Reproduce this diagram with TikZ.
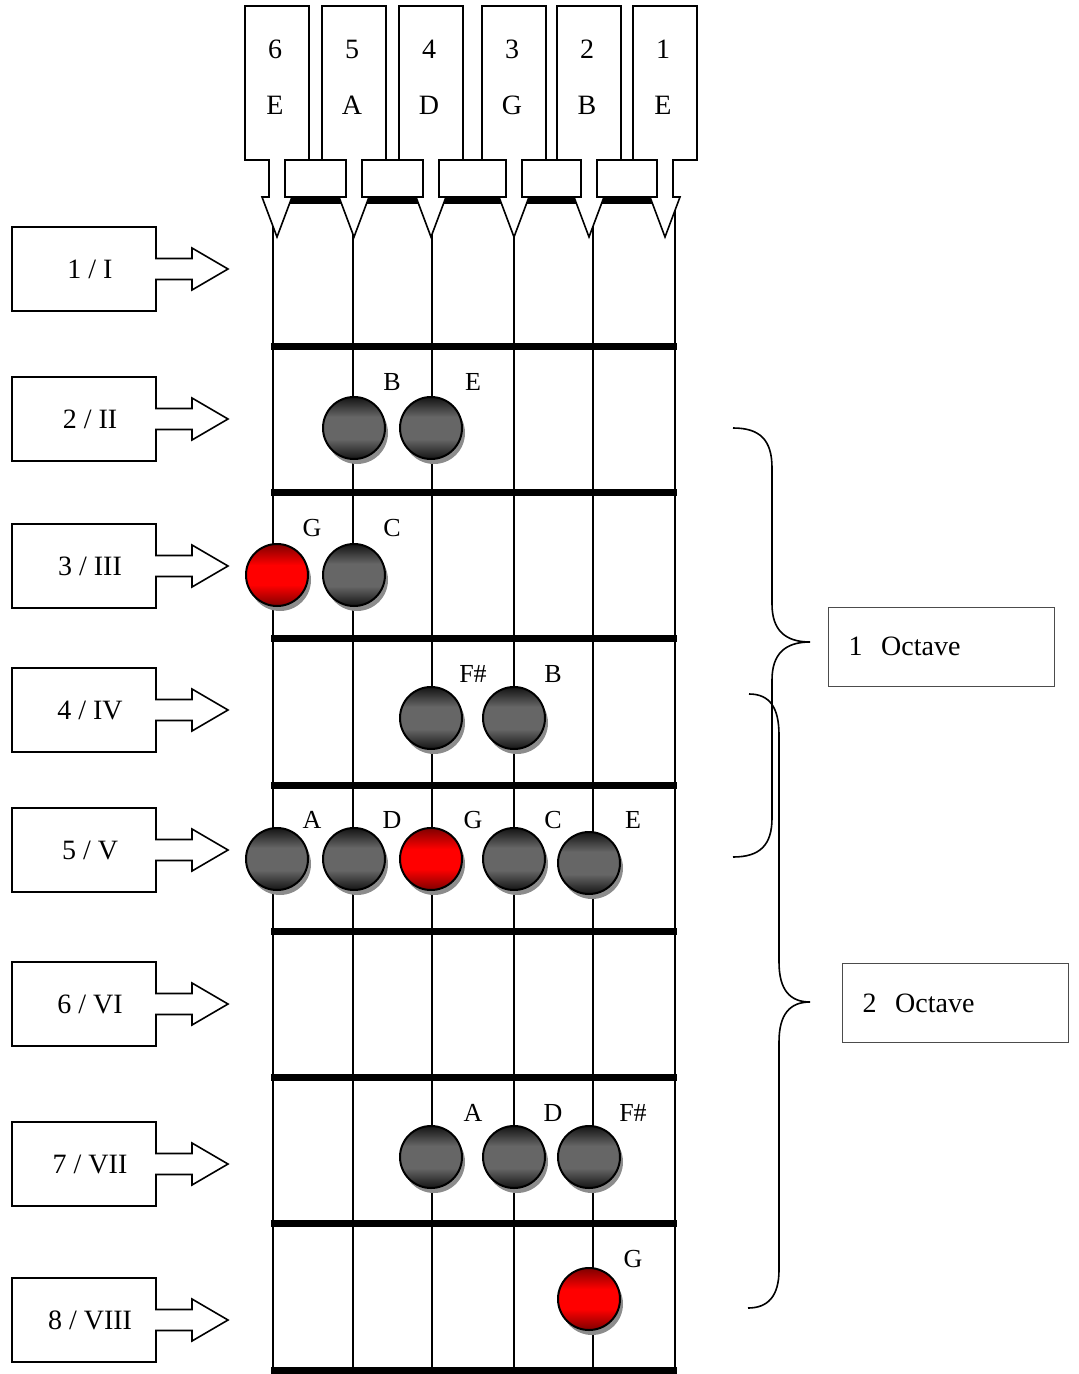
\documentclass[tikz,border=0pt]{standalone}
\usepackage{fontspec}
\setmainfont{Liberation Serif}
\usetikzlibrary{positioning, calc, shadows}
\pgfdeclareverticalshading{notegray}{100bp}{color(0bp)=(black!92); color(25bp)=(black!92);
  color(41bp)=(black!60); color(59bp)=(black!60); color(75bp)=(black!92); color(100bp)=(black!92)}
\pgfdeclareverticalshading{notered}{100bp}{color(0bp)=(red!50!black); color(25bp)=(red!50!black);
  color(42bp)=(red); color(58bp)=(red); color(75bp)=(red!50!black); color(100bp)=(red!50!black)}

\begin{document}
\begin{tikzpicture}[x=0.5pt, y=-0.5pt,
  string/.style={line width=1.3pt},
  fret/.style={line width=3.5pt},
  outline/.style={draw, line width=0.8pt, fill=white},
  note/.style={circle, draw, line width=1pt, minimum size=31pt, inner sep=0pt,
    shade, shading=notegray,
    drop shadow={shadow xshift=1.5pt, shadow yshift=-2.5pt, fill=black!45, opacity=1}},
  root/.style={note, shading=notered},
  notename/.style={font=\fontsize{13}{15}\selectfont},
  octave/.style={draw=black!70, line width=0.5pt, minimum width=113pt, minimum height=39.5pt,
    inner xsep=10pt, text width=93pt, align=left, anchor=west, font=\fontsize{14}{16}\selectfont},
  brace/.style={line width=0.8pt},
  fretbox/.pic={
    \draw[outline] (0,-42) -- (144,-42) -- (144,-10.5) -- (180,-10.5) -- (180,-21)
      -- (216,0) -- (180,21) -- (180,10.5) -- (144,10.5) -- (144,42) -- (0,42) -- cycle;
    \node[font=\fontsize{14}{16}\selectfont] (-txt) at (78,0) {#1};
  },
  stringbox/.pic={
    \draw[outline] (-32,6) -- (32,6) -- (32,160) -- (8,160) -- (8,197) -- (15,197)
      -- (0,237) -- (-15,197) -- (-8,197) -- (-8,160) -- (-32,160) -- cycle;
    \node[align=center, font=\fontsize{14}{28}\selectfont] (-txt) at (-2,77) {#1};
  }
]
\useasboundingbox (0,0) rectangle (1079,1374);

% strings
\draw[string] (273,200) -- (273,1370);
\draw[string] (353,200) -- (353,1370);
\draw[string] (432,200) -- (432,1370);
\draw[string] (514,200) -- (514,1370);
\draw[string] (593,200) -- (593,1370);
\draw[string] (675,200) -- (675,1370);

% frets
\draw[fret] (271,346) -- (677,346);
\draw[fret] (271,492) -- (677,492);
\draw[fret] (271,638) -- (677,638);
\draw[fret] (271,785) -- (677,785);
\draw[fret] (271,931) -- (677,931);
\draw[fret] (271,1077) -- (677,1077);
\draw[fret] (271,1223) -- (677,1223);
\draw[fret] (271,1370) -- (677,1370);

% nut
\draw[outline] (285,160) rectangle (346,197);
\draw[outline] (362,160) rectangle (423,197);
\draw[outline] (439,160) rectangle (506,197);
\draw[outline] (522,160) rectangle (581,197);
\draw[outline] (597,160) rectangle (657,197);
\draw[fret] (273,200.5) -- (675,200.5);

% string names
\pic (s6) at (277,0) {stringbox={6\\E}};
\pic (s5) at (354,0) {stringbox={5\\A}};
\pic (s4) at (431,0) {stringbox={4\\D}};
\pic (s3) at (514,0) {stringbox={3\\G}};
\pic (s2) at (589,0) {stringbox={2\\B}};
\pic (s1) at (665,0) {stringbox={1\\E}};

% fret numbers
\pic (f1) at (12,269) {fretbox={1 / I}};
\pic (f2) at (12,419) {fretbox={2 / II}};
\pic (f3) at (12,566) {fretbox={3 / III}};
\pic (f4) at (12,710) {fretbox={4 / IV}};
\pic (f5) at (12,850) {fretbox={5 / V}};
\pic (f6) at (12,1004) {fretbox={6 / VI}};
\pic (f7) at (12,1164) {fretbox={7 / VII}};
\pic (f8) at (12,1320) {fretbox={8 / VIII}};

% notes
\node[note] (n2s5) at (354,428) {};
\node[note] (n2s4) at (431,428) {};
\node[root] (n3s6) at (277,575) {};
\node[note] (n3s5) at (354,575) {};
\node[note] (n4s4) at (431,718) {};
\node[note] (n4s3) at (514,718) {};
\node[note] (n5s6) at (277,859) {};
\node[note] (n5s5) at (354,859) {};
\node[root] (n5s4) at (431,859) {};
\node[note] (n5s3) at (514,859) {};
\node[note] (n5s2) at (589,863) {};
\node[note] (n7s4) at (431,1157) {};
\node[note] (n7s3) at (514,1157) {};
\node[note] (n7s2) at (589,1157) {};
\node[root] (n8s2) at (589,1299) {};

% note names
\node[notename] (l2s5) at (392,382) {B};
\node[notename] (l2s4) at (473,382) {E};
\node[notename] (l3s6) at (312,528) {G};
\node[notename] (l3s5) at (392,528) {C};
\node[notename] (l4s4) at (473,674) {F\#};
\node[notename] (l4s3) at (553,674) {B};
\node[notename] (l5s6) at (312,820) {A};
\node[notename] (l5s5) at (392,820) {D};
\node[notename] (l5s4) at (473,820) {G};
\node[notename] (l5s3) at (553,820) {C};
\node[notename] (l5s2) at (633,820) {E};
\node[notename] (l7s4) at (473,1113) {A};
\node[notename] (l7s3) at (553,1113) {D};
\node[notename] (l7s2) at (633,1113) {F\#};
\node[notename] (l8s2) at (633,1259) {G};

% octaves
\node[octave] (oct1) at (828,646.5) {1~~Octave};
\node[octave] (oct2) at (842,1003) {2~~Octave};

\coordinate (b1top) at (733,428);
\coordinate (b1tip) at (810,642);
\coordinate (b1bot) at (733,857);
\coordinate (b2top) at (749,694);
\coordinate (b2tip) at (810,1002);
\coordinate (b2bot) at (748,1308);

\draw[brace] (b1top) .. controls (760,428) and (772,440) .. (772,468) -- (772,604)
  .. controls (772,630) and (785,642) .. (b1tip)
  .. controls (785,642) and (772,654) .. (772,680) -- (772,818)
  .. controls (772,845) and (760,857) .. (b1bot);
\draw[brace] (b2top) .. controls (770,694) and (779,708) .. (779,735) -- (779,962)
  .. controls (779,990) and (790,1002) .. (b2tip)
  .. controls (790,1002) and (779,1014) .. (779,1042) -- (779,1270)
  .. controls (779,1296) and (768,1308) .. (b2bot);
\end{tikzpicture}
\end{document}
